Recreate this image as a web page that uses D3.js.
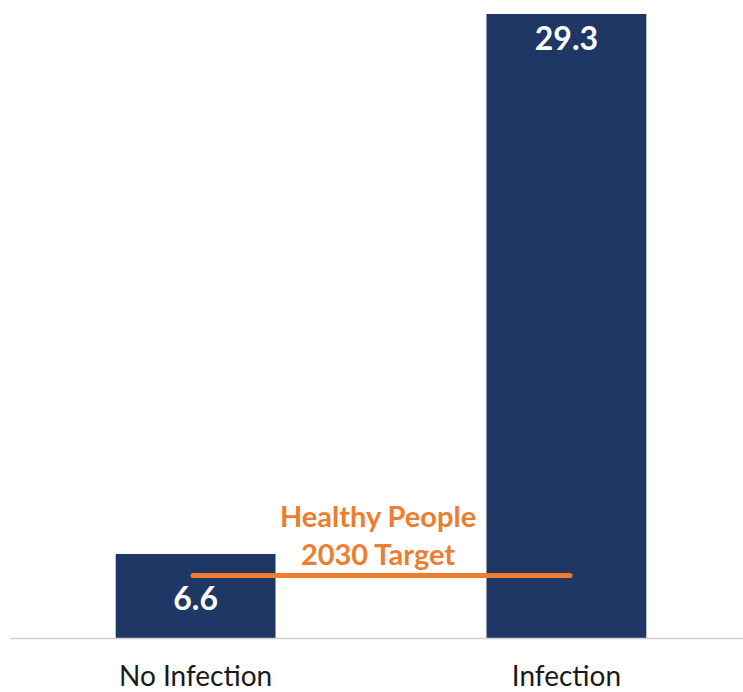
<!DOCTYPE html>
<html>
<head>
<meta charset="utf-8">
<script src="https://cdn.jsdelivr.net/npm/d3@7"></script>
<style>
  body { margin: 0; background: #fff; }
  svg { display: block; }
</style>
</head>
<body>
<div id="chart"></div>
<script>
const categories = ["No Infection", "Infection"];
const values = [6.6, 29.3];
const valueLabels = ["6.6", "29.3"];
const targetValue = 5.7;
const targetLines = ["Healthy People", "2030 Target"];

const width = 743, height = 692;
const baseY = 638;

const svg = d3.select("#chart").append("svg")
  .attr("width", width)
  .attr("height", height);

const x = d3.scaleBand()
  .domain(categories)
  .range([10, 752])
  .paddingInner(0.569)
  .paddingOuter(0.285);

// axis does not start at zero in the original
const y = d3.scaleLinear().domain([3.07, 29.3]).range([baseY, 14]);

svg.selectAll("rect.bar")
  .data(values)
  .enter().append("rect")
  .attr("class", "bar")
  .attr("x", (d, i) => x(categories[i]))
  .attr("width", x.bandwidth())
  .attr("y", d => y(d))
  .attr("height", d => baseY - y(d))
  .attr("fill", "#1f3765");

// baseline
svg.append("line")
  .attr("x1", 10).attr("x2", 743)
  .attr("y1", baseY + 0.5).attr("y2", baseY + 0.5)
  .attr("stroke", "#d0d0d0")
  .attr("stroke-width", 1.5);

// value labels
svg.selectAll("text.val")
  .data(values)
  .enter().append("text")
  .attr("class", "val")
  .attr("x", (d, i) => x(categories[i]) + x.bandwidth() / 2)
  .attr("y", (d, i) => i === 0 ? y(d) + 56 : y(d) + 36)
  .attr("text-anchor", "middle")
  .attr("font-family", "Lato, 'Open Sans', sans-serif")
  .attr("font-weight", "bold")
  .attr("font-size", 32)
  .attr("fill", "#fff")
  .text((d, i) => valueLabels[i]);

// category labels
svg.selectAll("text.cat")
  .data(categories)
  .enter().append("text")
  .attr("class", "cat")
  .attr("x", d => x(d) + x.bandwidth() / 2)
  .attr("y", 686)
  .attr("text-anchor", "middle")
  .attr("font-family", "Lato, 'Open Sans', sans-serif")
  .attr("font-size", 28)
  .attr("fill", "#1a1a1a")
  .text(d => d);

// target line
const x0 = 193, x1 = 570;
svg.append("line")
  .attr("x1", x0).attr("x2", x1)
  .attr("y1", y(targetValue)).attr("y2", y(targetValue))
  .attr("stroke", "#ed7d31")
  .attr("stroke-width", 5)
  .attr("stroke-linecap", "round");

svg.append("text")
  .attr("x", 378)
  .attr("y", 527)
  .attr("text-anchor", "middle")
  .attr("font-family", "Lato, 'Open Sans', sans-serif")
  .attr("font-weight", "bold")
  .attr("font-size", 29)
  .attr("fill", "#ed7d31")
  .selectAll("tspan")
  .data(targetLines)
  .enter().append("tspan")
  .attr("x", 378)
  .attr("dy", (d, i) => i === 0 ? 0 : 38)
  .text(d => d);
</script>
</body>
</html>
